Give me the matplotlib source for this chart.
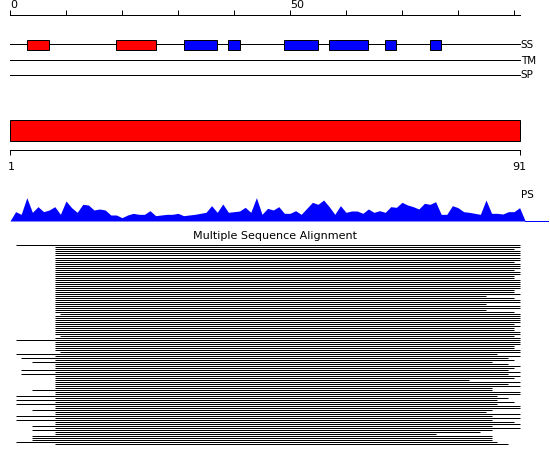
import numpy as np
import matplotlib
matplotlib.use('Agg')
import matplotlib.pyplot as plt
import matplotlib.patches as mpatches

# ── Data ──────────────────────────────────────────────────────────────────────
seq_len = 91

# secondary structure elements (1-based residues)
ss_start = [4, 20, 32, 40, 50, 58, 68, 76]
ss_end   = [7, 26, 37, 41, 55, 64, 69, 77]
ss_type  = ['H', 'H', 'E', 'E', 'E', 'E', 'E', 'E']

# per-residue profile score (PS)
ps_score = [28, 20, 70, 26, 43, 28, 33, 43, 20, 60,
            40, 26, 50, 48, 33, 36, 33, 18, 18, 10,
            18, 23, 20, 20, 31, 16, 18, 20, 20, 23,
            16, 18, 20, 23, 26, 46, 26, 51, 26, 28,
            30, 41, 26, 70, 20, 38, 33, 43, 23, 23,
            31, 20, 38, 56, 50, 63, 43, 20, 46, 26,
            30, 30, 23, 36, 26, 31, 26, 43, 41, 56,
            48, 43, 36, 53, 50, 58, 20, 20, 46, 40,
            28, 26, 23, 20, 63, 23, 23, 21, 28, 28, 40]

# alignment rows: first and last aligned residue of each hit
msa_first = [9] * 100
for i, s in {0: 2, 34: 10, 45: 10, 47: 2, 53: 10, 54: 2, 56: 3, 58: 5,
             62: 3, 64: 3, 72: 5, 75: 2, 77: 2, 79: 2, 82: 5, 85: 2,
             87: 2, 90: 5, 92: 5, 95: 5, 96: 5, 97: 5, 98: 2}.items():
    msa_first[i] = s
msa_last = [91, 91, 90, 91, 91, 91, 91, 91, 90, 91,
            91, 91, 90, 91, 91, 90, 90, 91, 91, 91,
            91, 91, 90, 90, 91, 85, 90, 91, 91, 85,
            91, 91, 85, 90, 91, 91, 91, 91, 91, 90,
            91, 90, 90, 91, 91, 90, 91, 91, 91, 91,
            90, 90, 91, 91, 87, 91, 89, 90, 86, 89,
            91, 90, 89, 91, 89, 91, 90, 82, 91, 89,
            91, 86, 86, 91, 91, 87, 89, 87, 90, 87,
            91, 91, 86, 85, 91, 86, 91, 86, 90, 91,
            86, 91, 86, 84, 76, 86, 86, 86, 87, 89]

# ── Layout (pixels) ───────────────────────────────────────────────────────────
W, H = 550, 465
X0, RES_W = 10, 5.6
XL = (-X0 / RES_W, (W - X0) / RES_W)
LW = 0.72
SS_COL = {'H': '#FF0000', 'E': '#0000FF'}
plt.rcParams['font.family'] = 'DejaVu Sans'

fig = plt.figure(figsize=(W / 100, H / 100), dpi=100, facecolor='white')

ax = fig.add_axes([0, 0, 1, 1])
ax.set_xlim(*XL); ax.set_ylim(H, 0); ax.axis('off')

# top ruler
ax.plot([0, seq_len], [15.5, 15.5], color='black', lw=LW)
ax.vlines(np.arange(0, seq_len, 10), 10, 15.5, color='black', lw=LW)
for t in (0, 50):
    ax.text(t, 5.5, str(t), ha='left', va='center', fontsize=8)

# feature tracks
for y, lab in [(44.5, 'SS'), (60.5, 'TM'), (75.5, 'SP')]:
    ax.plot([0, seq_len], [y, y], color='black', lw=LW, zorder=1)
    ax.text(seq_len + 0.2, y, lab, ha='left', va='center', fontsize=7.5)
for s, e, t in zip(ss_start, ss_end, ss_type):
    ax.add_patch(mpatches.Rectangle((s - 1, 40), e - s + 1, 10, facecolor=SS_COL[t],
                                    edgecolor='black', lw=LW, zorder=2))

# domain bar
ax.add_patch(mpatches.Rectangle((0, 120), seq_len, 20.5, facecolor='#FF0000',
                                edgecolor='black', lw=LW))

# bottom ruler
ax.plot([0, seq_len], [150.5, 150.5], color='black', lw=LW)
ax.vlines([0, seq_len], 150.5, 155.5, color='black', lw=LW)
ax.text(0.15, 167, '1', ha='center', va='center', fontsize=8)
ax.text(seq_len, 167, str(seq_len), ha='center', va='center', fontsize=8)

ax.text(seq_len + 0.2, 195, 'PS', ha='left', va='center', fontsize=7.5)

# profile
ax_ps = fig.add_axes([0, 1 - 221 / H, 1, (70 / 3) / H])
ax_ps.set_xlim(*XL); ax_ps.set_ylim(0, 70); ax_ps.axis('off')
px = np.concatenate([[0], np.arange(1, seq_len + 1), [seq_len + 1]])
py = np.concatenate([[0], ps_score, [0]])
ax_ps.fill_between(px, 0, py, color='#0000FF', lw=0)
ax_ps.plot([seq_len + 1, XL[1] - 0.3], [0.8, 0.8], color='#0000FF', lw=LW, clip_on=False)

fig.text(0.5, 1 - 236 / H, 'Multiple Sequence Alignment', ha='center', va='center',
         fontsize=8)

# alignment
ax_msa = fig.add_axes([0, 0, 1, 1])
ax_msa.set_xlim(*XL); ax_msa.set_ylim((H - 245.5) / 2, -245.5 / 2); ax_msa.axis('off')
rows = np.arange(len(msa_last))
ax_msa.hlines(rows, np.array(msa_first) - 1, msa_last, color='black', lw=LW)

fig.savefig('out.png', dpi=100, facecolor='white')
